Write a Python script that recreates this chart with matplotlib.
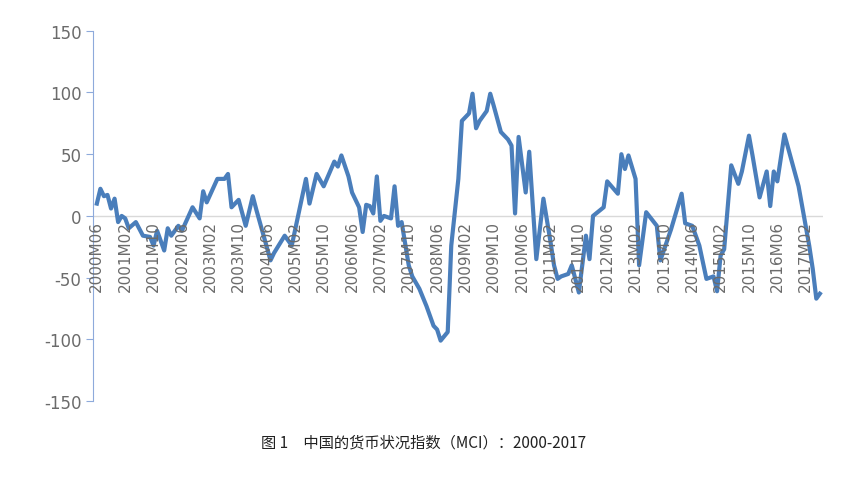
import matplotlib.pyplot as plt

# month index (0 = 2000M06) and MCI value
month_idx = [0, 1, 2, 3, 4, 5, 6, 7, 8, 9, 11, 13, 15, 16, 17, 19, 20, 21, 23, 24,
             27, 29, 30, 31, 34, 36, 37, 38, 40, 42, 44, 45, 49, 50, 53, 55, 59, 60,
             62, 64, 67, 68, 69, 71, 72, 74, 75, 76, 77, 78, 79, 80, 81, 83, 84, 85,
             86, 88, 89, 91, 93, 95, 96, 97, 99, 100, 102, 103, 105, 106, 107, 108,
             110, 111, 112, 114, 116, 117, 118, 119, 121, 122, 124, 126, 128, 129,
             130, 131, 133, 134, 136, 138, 139, 140, 143, 144, 147, 148, 149, 150,
             152, 153, 155, 158, 159, 162, 165, 166, 168, 170, 172, 174, 175, 176,
             177, 179, 181, 182, 184, 185, 187, 189, 190, 191, 192, 194, 196, 198,
             199, 201, 202, 203, 204]
mci = [10, 22, 16, 17, 6, 14, -5, 0, -2, -10, -5, -16, -17, -24, -12, -28, -10, -16, -8, -12,
       7, -2, 20, 11, 30, 30, 34, 7, 13, -8, 16, 5, -36, -30, -16, -24, 30, 10,
       34, 24, 44, 40, 49, 32, 19, 7, -13, 9, 8, 2, 32, -4, 0, -2, 24, -8,
       -5, -40, -49, -59, -73, -89, -92, -101, -94, -24, 30, 77, 83, 99, 71, 77,
       85, 99, 89, 68, 62, 57, 2, 64, 19, 52, -35, 14, -21, -40,
       -51, -49, -47, -40, -62, -16, -35, 0, 7, 28, 18, 50, 38, 49,
       30, -40, 3, -8, -36, -11, 18, -6, -8, -24, -51, -49, -61, -32,
       -27, 41, 26, 36, 65, 49, 15, 36, 8, 36, 28, 66, 45, 24,
       8, -24, -43, -67, -63]

tick_idx = list(range(0, 201, 8))
tick_labels = []
for i in tick_idx:
    m = 6 + i
    tick_labels.append(f"{2000 + (m - 1) // 12}M{(m - 1) % 12 + 1:02d}")
y_ticks = [-150, -100, -50, 0, 50, 100, 150]

fig = plt.figure(figsize=(8.64, 4.81), dpi=100)
ax = fig.add_axes([0.108, 0.164, 0.845, 0.77])
ax.plot(month_idx, mci, color="#4A7EBB", linewidth=3, solid_joinstyle="round")
ax.axhline(0, color="#D9D9D9", linewidth=1, zorder=0)

ax.set_xlim(-1, 205)
ax.set_ylim(-150, 150)
ax.set_yticks(y_ticks)
ax.set_yticklabels([str(v) for v in y_ticks], color="#6B6B6B", fontsize=12)
ax.set_xticks([])
for s in ("top", "right", "bottom"):
    ax.spines[s].set_visible(False)
ax.spines["left"].set_color("#8EAADB")
ax.tick_params(axis="y", color="#8EAADB", length=5, direction="out")

for i, lab in zip(tick_idx, tick_labels):
    ax.text(i, -3, lab, rotation=90, ha="center", va="top", fontsize=11, color="#6B6B6B")

fig.text(0.49, 0.07, "图 1　中国的货币状况指数（MCI）：2000-2017", ha="center",
         fontsize=11, fontfamily="Noto Sans CJK SC", color="#222222")

fig.savefig("out.png", dpi=100)
